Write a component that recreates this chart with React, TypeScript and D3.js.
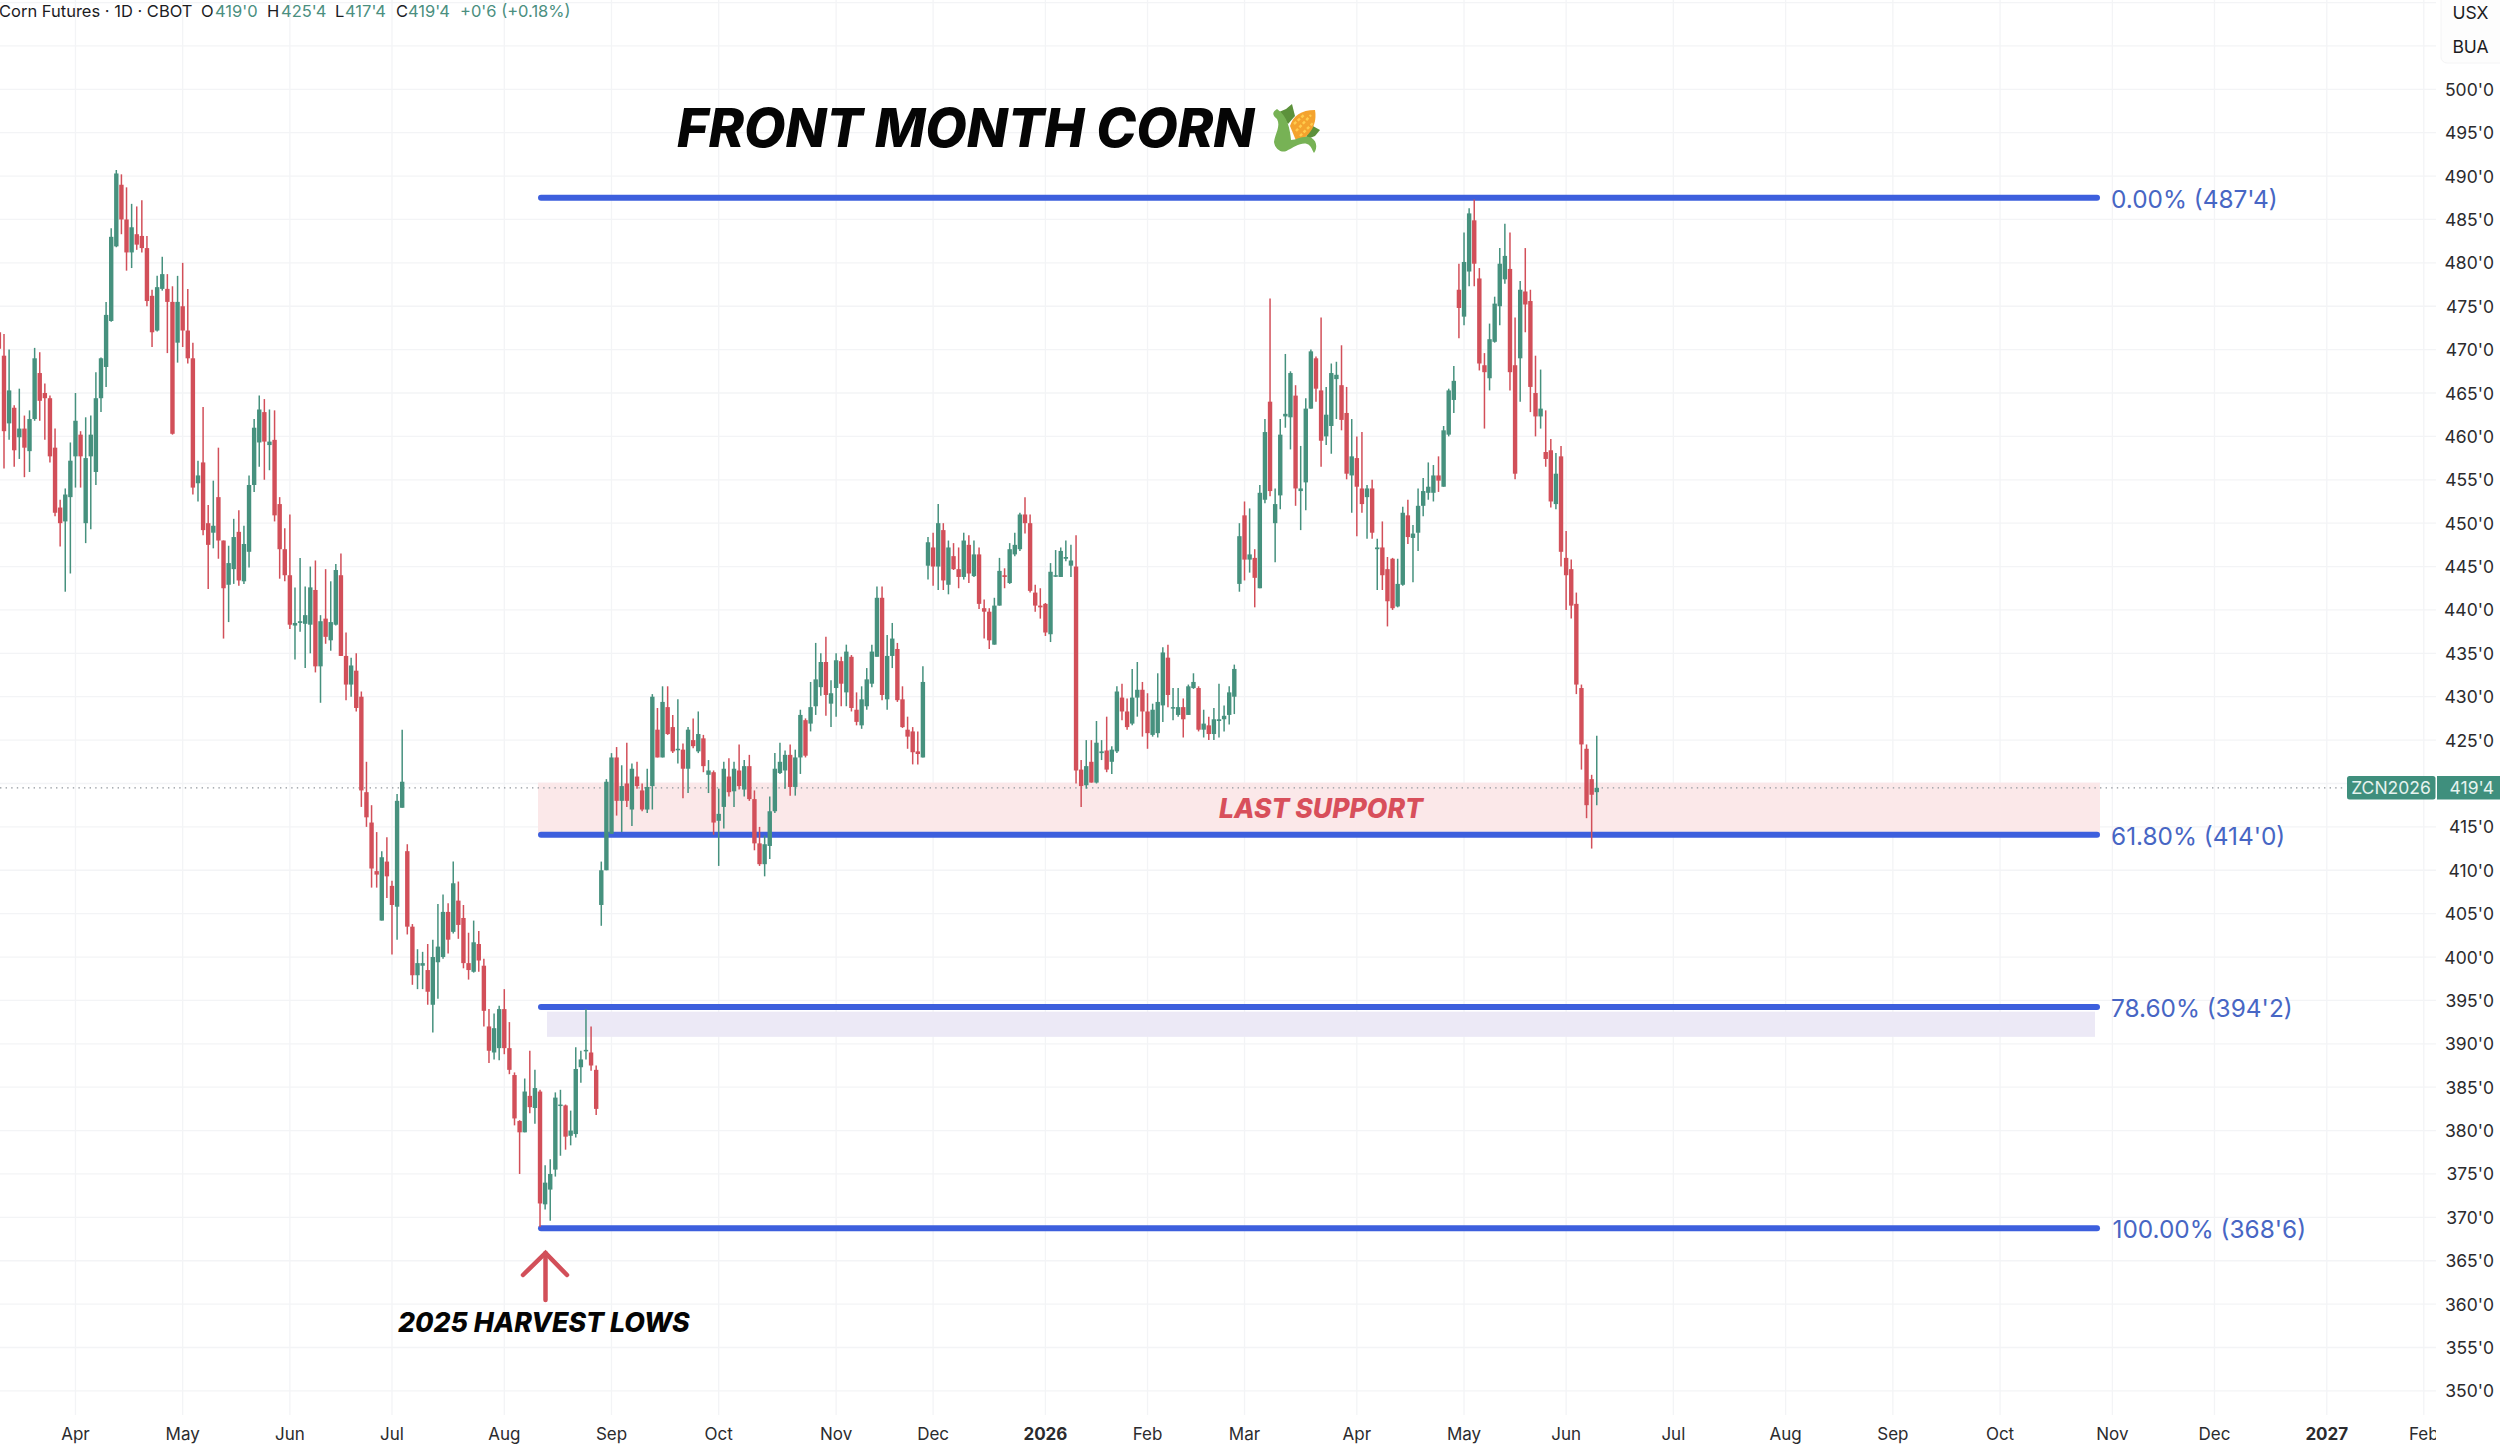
import { useEffect, useRef } from "react";
import * as d3 from "d3";

type Bar = [number, number, number, number]; // open, high, low, close

const barsSpring2025: Bar[] = [
  [472,472,469.1,470.1],[469.3,471.8,456.3,460.6],[461.5,470,459.6,465.3],[463.3,463.6,456.5,458.4],[459.9,465.5,457.4,460.9],
  [460.9,462.4,455.3,458.7],[458.3,463,455.9,462],[462,470.2,461.8,469],[467.3,469.7,461.8,464.1],[465,466.1,459.6,464.4],
  [464.4,464.7,457,457.7],[458.7,460.9,450.8,451.2],[451.8,452.7,447.3,450],[450.2,454,442.1,453.3],[453,459.3,444.2,457.2],
  [457.7,465,454.1,461.8],[460.2,460.6,454.1,457.7],[450,462.2,447.7,457.5],[457.7,462.4,449.3,460.2],[455.9,467.4,454.4,464.4],
  [464.4,469.1,462.8,469],[468,475.5,465.7,474],[473.3,484,473.2,483],[481.9,490.7,481.8,490.3],[489,490.2,483.3,485],
  [485,488.7,479.1,481.2],[481.2,486.8,479.4,484.1],[483.3,486.5,481.5,482.1],[483.1,487.2,481.2,481.7],[481.7,483.1,475,475.6],
  [476.2,476.9,470.3,472],[472.2,478.5,472.1,477.2],[477,480.7,476.8,478.7],[477,478.7,469.6,475.5],[475.5,477.3,460.2,460.3],
  [470.8,478.5,468.5,475.5],[475,480,470.3,472.2],
];

const barsSummer2025: Bar[] = [
  [472.2,477,468.4,469],[469,470.8,453.3,454.1],[454.6,457.2,452.5,455.5],[457,463.4,448.6,449.2],[450,452.1,442.4,447.5],
  [448.9,454.9,447.1,449.7],[453,458.7,445.9,448],[448,448,436.7,442.5],[442.9,447.4,438.6,445.4],[444.7,450.5,443,448.4],
  [449,451.5,442.8,443.4],[443.3,449.7,443,447.6],[446.7,455.5,444.9,454.4],[454.4,462,453.6,461],[459.3,464.7,456.5,463.1],
  [462.8,464.3,455,459.4],[459,463.1,456.1,459.4],[459.6,463,450.2,450.9],[452.2,453,443.6,447],[447,449.4,443.3,444],
  [444,451,437.8,438.3],[438.2,442.6,434.3,438.5],[438.5,446,437.5,438.7],[438.4,442.7,433.3,439.4],[438.3,445,435,442.6],
  [442.3,445.7,432.8,433.5],[433.5,439.4,429.3,438.7],[439,444.7,436.1,436.9],[436.5,443.3,435.3,438.6],[438.3,445.3,438.2,444.6],
  [444,446.5,434.7,434.7],[434.7,437.4,429.6,431.4],[431.4,434.5,430,433.6],[433,435,428.3,428.7],[430,430.6,417.3,419.2],
  [419,422.5,415,416.1],[415.5,417.5,408,410.2],[409.9,414.4,408,409.5],[404.2,412.2,404.2,411.5],[411,413.8,406.8,409.3],
  [408.2,408.8,400.3,406],[405.8,418.8,402,418],[417.2,426.2,417.2,420.2],[412.2,413,402.6,403.5],[403.5,403.8,396.8,397.9],
  [397.9,400.9,396.3,399.3],[399,400.6,396.3,399.3],[398.5,401.5,394.5,396],[394.5,402,391.3,400],[399.4,406.1,395.2,401.2],
  [400,407.2,399.8,405.2],[405.2,406.2,400.4,402],[402.9,411,402.7,408.5],[406.5,408.7,402.1,403.7],[404.5,406,398.7,399.3],
  [399.3,402.8,397.4,398.5],[398.3,404.2,398.2,401.7],[401.5,403,398.3,399.6],[399,399.8,392,393.8],[392,394,387.8,389.2],
  [389,393.5,388.2,391.8],[389.5,394.4,388.1,394],[394,396.3,388.8,389.5],[389.5,392.5,386.5,387],[386.4,386.7,380.6,381.4],
  [381.1,381.2,375,379.8],[379.8,386,379.8,384.5],[384,389.2,382,382.7],[382.6,387,380.8,384.9],[384.5,384.7,368.9,371.6],
  [371.5,376,370.9,374],[373.2,376.7,369.6,375],[375.5,384.4,374.7,383.8],[382.9,384.7,377.1,383],[382.9,383,377.8,379.3],
  [379.4,382.3,378.3,380],[379.6,389.6,379.2,387.1],[387.3,389.2,385.5,388.2],[389.2,394,388.2,389.3],[389,392,386.9,387.5],
  [387,387.5,381.8,382.5],
];

const barsFall2025: Bar[] = [
  [406,411,403.6,410],[410,420.5,410,420.2],[414.2,423.5,414.2,423],[423,424.2,416.3,418],[418,422.1,414.4,419.7],
  [420,424.7,417.3,418],[417,422.3,415.1,421.7],[420.8,422.5,419.4,419.7],[419.2,420,416.8,417],[417,421.7,416.6,419.6],
  [419.7,430.3,417,430],[426.2,428.7,423,423],[423,431.2,423,429.4],[428.8,431.2,425.6,425.7],[426.5,427.9,423.5,423.7],
  [423.9,429.7,422.3,424],[423.9,424.6,418.3,421.7],[421.7,426.5,418.9,426.2],[425,427.5,424.05,424.3],[423.7,428.3,423.5,425.7],
  [425.2,425.6,421.3,422],[421,422.7,418.9,421.5],[421.3,421.5,414.1,415.5],[415.7,419.4,410.5,416.5],[417.3,422.5,414.8,421.7],
  [420.8,422.9,418.5,419],[419.1,422.5,417.3,421.7],[421.5,424.5,419.3,419.7],[419.3,422.7,418.5,422],[422,423.3,418,418.2],
  [418.2,419.2,412.3,413.1],[413.1,415,410.5,410.7],[410.7,414,409.3,413],[412.8,418.5,411.3,416.8],[416.8,423.5,416.6,421.7],
  [421.2,424.7,421.1,422.5],[421.5,423.8,419.4,423.3],[423.3,424.5,418.6,419.6],[419.6,423.9,418.6,423],[423,428.5,421.1,427.9],
  [427.3,427.5,423,423.2],[426.9,431.7,426,428.8],[428.9,436.2,427.9,432],[431.1,435,430.1,434],[434,436.9,427.8,430.2],
  [429.2,431.9,426.5,430.4],[431,435,427.7,434.2],[434.1,434.6,428.9,431.5],[430.5,436,428.9,435.2],[434.6,434.8,428.3,428.7],
  [428.5,430.5,426.7,427.1],[426.7,431.2,426.3,429.7],[428.9,433.3,428.5,432],[431.5,436,431.1,435.2],[434.6,442.7,434.6,441.4],
  [441.4,442.7,429.6,430.2],[429.7,437.1,428.5,434.7],[434.7,438.5,433.3,436.7],[435.5,436.2,429.4,429.6],[429.7,431.2,426.4,426.5],
  [426.2,427.7,424,425.4],[426,426.5,422.2,423.6],[423.7,426,422.2,423.4],[423,433.5,423,431.7],
];

const barsWinter2026: Bar[] = [
  [445.1,448.4,443.5,447.8],[447.2,448.9,442.8,445],[445,452.2,442.3,450],[449.2,450,442.3,443.4],[442.9,448,441.8,447.2],
  [446.2,447.7,444.6,444.7],[444.7,447.2,442.5,443.8],[443.8,448.9,443.5,448],[447.5,448.6,443.1,444.2],[443.9,448,443.8,446.4],
  [446.4,447.2,440.1,440.7],[440.2,441.2,436.7,439.8],[439.8,440.2,435.5,436.5],[436,441.4,436,440.5],[440.5,446,440.5,444.5],
  [444,444.8,442.5,443.8],[443.1,447.7,443,447],[446.4,448.9,446.2,447.5],[447,451.2,446.8,451],[451,453,448.8,450],
  [450,451,442,442.2],[442,442.9,439.8,440.5],[440.5,442.5,439,440.3],[440.7,440.8,437,437.4],[437.2,445.4,436.3,444.4],
  [443.9,446.9,443.8,444],[443.8,447.2,443.8,446.8],[445.9,448,445.6,446.1],[445.1,447.5,443.8,445.7],[445,448.6,420,421.5],
  [421.6,422.7,417.3,419.7],[419.8,425,419.4,422],[422.5,425,420.1,420.1],[420.1,427.2,420,424.7],[423.5,425,422.7,423.7],
  [423.8,427.7,421.3,421.6],[422.5,424.3,421.1,423.9],[423.7,431.2,423.5,430.6],[429.9,431.5,427.3,428.3],[428.3,429.8,426.2,426.5],
  [426.9,433.2,426.7,429.9],[429.9,434,427.7,430.8],[430.8,431.7,425.4,428.3],[428.3,430.4,424,425.8],[425.6,429.2,425.4,428.5],
  [425.8,432.7,425.3,429.4],[429,435.7,427.1,435.1],[434.5,436,428.8,430.2],[428.7,431,427.3,428.8],[427.9,431,427.7,428.8],
  [428.8,429.8,425.3,427.4],[427.9,431.4,427.9,431.2],[431,432.7,430.9,431.7],[431,431.2,426,426.2],[426.2,428.5,425.3,426.9],
  [426.7,427.7,425,425.7],[425.7,428.7,425,427.4],[427.2,431.5,425.3,427.4],[427.4,429,426,427.8],[427.9,431.2,426.8,430.5],
  [430,433.7,428,433.2],
];

const barsSpring2026: Bar[] = [
  [443,450,442.1,448.5],[450.9,452.5,443.4,445.8],[445.8,451.7,444.3,446.4],[446,447,440.3,443.7],[442.5,454.4,442.5,453.5],
  [452.7,462,452.3,460.5],[464,475.9,453.1,453.7],[450,454,445.5,452.2],[453.2,462,451.6,460.2],[462.3,469.5,461,462.6],
  [462.2,467.5,458.5,467.3],[464.7,465.9,452,454],[453.7,458.9,449.2,454],[454.7,464.4,451.5,463.2],[463.2,470,463.2,469.8],
  [469,469.2,464,465.5],[465.3,473.7,456.5,459.5],[460,465.7,459,462.5],[461.2,468.4,458,467.3],[466.6,468.6,462,467.1],
  [465.9,470.5,460.7,461.9],[462.7,465.7,455.05,455.7],[455.5,462,451.2,457.7],[457.5,460,448.5,454.2],[454,460.5,451.2,452.2],
  [453,454.4,448.2,454],[454,455,448.2,448.9],[447,448.2,442.3,447.2],[447.2,450.2,442.3,444],[444.7,446.1,438.1,441],
  [445.9,446,440,440.2],[440.4,445.9,440.3,443],[442.9,451.9,442.8,451.2],[450.9,452.7,447.6,448.4],[448.3,449.8,443.2,448.8],
  [448.9,454,446.8,452],[452,455.2,450.8,453.7],[453.5,457,452.7,454.2],[453.5,456.7,452.5,455.5],[455.5,457.7,453.6,454.9],
  [454.2,461.2,454.2,460.7],[460.2,465.5,460,465.3],[464.2,468.1,462.7,466.4],[476.9,479.9,471.3,474.8],[473.8,483.5,472.8,480.1],
  [479,486.3,477.3,485.7],[484.9,487.3,477.3,479.9],[478.2,479.4,467.6,468.4],[468.2,469.6,460.9,467.4],[466.7,473,465.3,471.2],
  [470.9,476.1,470.8,475.3],[475,481.7,472.8,479.9],[478.1,484.5,477.6,480.8],[479.3,483.5,465.3,467.4],[468.2,473.7,455.05,455.7],
  [469,477.9,464,476.9],[476.7,481.7,472,475.2],[475.6,476.9,462.8,465.7],[465,469.3,460,462.3],[462.3,467.7,460.9,463.2],
  [458.2,463,456.5,457.4],[458.4,459.7,451.8,452.5],[452.2,458.1,451.6,455.7],[457.7,458.9,445,446.7],[446,449.1,440,444],
  [444.7,445.8,439,440.5],[440.7,442,430.3,431.4],[431,431.4,421.6,424.5],[424,424.5,416,417.5],[420.5,421,412.5,418.7],
  [419,425.5,417.5,419.5],
];

const allBars: Bar[] = [...barsSpring2025, ...barsSummer2025, ...barsFall2025, ...barsWinter2026, ...barsSpring2026];
const FIRST_BAR = -1;

const monthLabels = ["Apr", "May", "Jun", "Jul", "Aug", "Sep", "Oct", "Nov", "Dec", "2026", "Feb", "Mar", "Apr", "May", "Jun", "Jul", "Aug", "Sep", "Oct", "Nov", "Dec", "2027", "Feb"];
const monthBars = [14, 35, 56, 76, 98, 119, 140, 163, 182, 204, 224, 243, 265, 286, 306, 327, 349, 370, 391, 413, 433, 455, 474];

const fibPrices = [487.5, 414.1, 394.25, 368.75];
const fibLabels = ["0.00% (487'4)", "61.80% (414'0)", "78.60% (394'2)", "100.00% (368'6)"];

const priceTicks = d3.range(350, 501, 5);
const gridPrices = d3.range(350, 511, 5);

const headerParts: [string, number, boolean][] = [
  ["Corn Futures · 1D · CBOT", -1, false],
  ["O", 201, false], ["419'0", 215, true],
  ["H", 267, false], ["425'4", 281, true],
  ["L", 335, false], ["417'4", 345, true],
  ["C", 396, false], ["419'4", 408, true],
  ["+0'6 (+0.18%)", 460, true],
];

const GREEN = "#46917e", RED = "#d24f59", BLUE = "#3d5fdd", LABEL_BLUE = "#4766c4";
const FONT = "Inter, 'Liberation Sans', sans-serif";

export default function App() {
  const ref = useRef<SVGSVGElement>(null);

  useEffect(() => {
    const el = ref.current;
    if (!el) return;
    const W = 2500, H = 1444, gridRight = 2436, gridBottom = 1415;
    const svg = d3.select(el).attr("viewBox", `0 0 ${W} ${H}`).attr("width", W).attr("height", H).attr("font-family", FONT);
    svg.selectAll("*").remove();

    const x = d3.scaleLinear().domain([0, 474]).range([4, 4 + 474 * 5.105]);
    const y = d3.scaleLinear().domain([350, 500]).range([1390.9, 89.3]);

    svg.append("rect").attr("width", W).attr("height", H).attr("fill", "#fff");

    svg.append("clipPath").attr("id", "plot").append("rect").attr("width", gridRight).attr("height", H);

    // grid
    svg.append("g").selectAll("line").data(gridPrices).join("line")
      .attr("x1", 0).attr("x2", gridRight).attr("y1", (d) => y(d)).attr("y2", (d) => y(d))
      .attr("stroke", "#f3f4f6").attr("stroke-width", 1.3);
    svg.append("g").selectAll("line").data(monthBars).join("line")
      .attr("x1", (d) => x(d)).attr("x2", (d) => x(d)).attr("y1", 0).attr("y2", gridBottom)
      .attr("stroke", "#f3f4f6").attr("stroke-width", 1.3);

    // zones behind the candles
    const zoneLeft = 538, zoneRight = 2100;
    svg.append("rect").attr("x", zoneLeft).attr("width", zoneRight - zoneLeft)
      .attr("y", y(420.1)).attr("height", y(414.1) - y(420.1)).attr("fill", "#fbe8e9");
    svg.append("rect").attr("x", 547).attr("width", 2095 - 547)
      .attr("y", y(393.7)).attr("height", y(390.8) - y(393.7)).attr("fill", "#ece9f6");

    // last price line
    svg.append("line").attr("x1", 0).attr("x2", 2343).attr("y1", y(419.5)).attr("y2", y(419.5))
      .attr("stroke", "#8f959c").attr("stroke-width", 1.3).attr("stroke-dasharray", "1.4 4.2");

    // fib lines
    svg.append("g").selectAll("line").data(fibPrices).join("line")
      .attr("x1", zoneLeft + 3).attr("x2", zoneRight - 3).attr("y1", (d) => y(d)).attr("y2", (d) => y(d))
      .attr("stroke", BLUE).attr("stroke-width", 6).attr("stroke-linecap", "round");
    svg.append("g").selectAll("text").data(fibLabels).join("text")
      .attr("x", (_, i) => (i === 3 ? 2112.5 : 2111)).attr("y", (_, i) => y(fibPrices[i]) + 10)
      .attr("fill", LABEL_BLUE).attr("font-size", 24.4).text((d) => d);

    // candles
    const candles = svg.append("g");
    const barX = (i: number) => x(i + FIRST_BAR);
    candles.selectAll("line").data(allBars).join("line")
      .attr("x1", (_, i) => barX(i)).attr("x2", (_, i) => barX(i))
      .attr("y1", (d) => y(d[1])).attr("y2", (d) => y(d[2]))
      .attr("stroke", (d) => (d[3] >= d[0] ? GREEN : RED)).attr("stroke-width", 1.5);
    candles.selectAll("rect").data(allBars).join("rect")
      .attr("x", (_, i) => barX(i) - 2.2).attr("width", 4.4)
      .attr("y", (d) => y(Math.max(d[0], d[3])))
      .attr("height", (d) => Math.max(1.5, Math.abs(y(d[0]) - y(d[3]))))
      .attr("fill", (d) => (d[3] >= d[0] ? GREEN : RED));

    // annotations
    svg.append("text").attr("x", 677).attr("y", 147).attr("font-size", 53.7).attr("font-weight", 800)
      .attr("font-style", "italic").attr("fill", "#050505").text("FRONT MONTH CORN");
    const corn = svg.append("g").attr("transform", "translate(1271,104)");
    corn.append("path").attr("d", "M24 12 L21 0 L15 5 L8 8 L17 20 Z").attr("fill", "#5c913b");
    corn.append("path").attr("d", "M34 36 L44 32 L49 26 L40 21 Z").attr("fill", "#5c913b");
    corn.append("path").attr("d", "M19 22 C22 12 30 6 44 6 C46 18 42 30 26 39 Z").attr("fill", "#f4a32e");
    corn.append("path").attr("d", "M25 27 L40 11 M29 32 L42 19 M23 20 L34 10").attr("stroke", "#ffcc4d").attr("stroke-width", 2.4).attr("stroke-dasharray", "3 2").attr("fill", "none");
    corn.append("path").attr("d", "M6 5 C1 8 1 11 6 15 C10 22 4 30 3 38 C4 46 12 50 17 46 C22 44 30 38 36 40 C40 41 41 46 43 49 C47 44 46 35 38 33 C30 32 26 36 20 36 C19 26 17 12 6 5 Z").attr("fill", "#77b255");

    svg.append("text").attr("x", 1219).attr("y", 817.5).attr("font-size", 26.6).attr("font-weight", 800)
      .attr("font-style", "italic").attr("fill", "#d84f5b").text("LAST SUPPORT");
    svg.append("text").attr("x", 398).attr("y", 1332).attr("font-size", 26.7).attr("font-weight", 800)
      .attr("font-style", "italic").attr("fill", "#050505").text("2025 HARVEST LOWS");
    const arrow = d3.line();
    svg.append("path").attr("d", arrow([[545.5, 1300], [545.5, 1253]]))
      .attr("stroke", RED).attr("stroke-width", 4.5).attr("fill", "none").attr("stroke-linecap", "round");
    svg.append("path").attr("d", arrow([[523, 1275], [545.5, 1253], [567, 1275]]))
      .attr("stroke", RED).attr("stroke-width", 4.5).attr("fill", "none").attr("stroke-linecap", "round");

    // header
    svg.append("g").selectAll("text").data(headerParts).join("text")
      .attr("x", (d) => d[1]).attr("y", 17).attr("font-size", 16.5)
      .attr("fill", (d) => (d[2] ? "#4b8f7f" : "#1c1c1f")).text((d) => d[0]);

    // price scale
    svg.append("rect").attr("x", 2441).attr("y", -8).attr("width", 70).attr("height", 71).attr("rx", 6)
      .attr("fill", "#fdfdfd").attr("stroke", "#f4f4f5");
    svg.append("g").selectAll("text").data(["USX", "BUA"]).join("text")
      .attr("x", 2470.5).attr("y", (_, i) => 18.5 + i * 34.5).attr("text-anchor", "middle")
      .attr("font-size", 17.5).attr("fill", "#1c1c1f").text((d) => d);
    svg.append("g").selectAll("text").data(priceTicks).join("text")
      .attr("x", 2494).attr("y", (d) => y(d) + 6.5).attr("text-anchor", "end")
      .attr("font-size", 17.5).attr("fill", "#2b2b2e").text((d) => `${d}'0`);

    // last price tags
    svg.append("rect").attr("x", 2347).attr("y", 776).attr("width", 88.5).attr("height", 23.5).attr("rx", 2.5).attr("fill", "#3f8f7d");
    svg.append("rect").attr("x", 2437).attr("y", 776).attr("width", 63).attr("height", 23.5).attr("fill", "#3f8f7d");
    svg.append("text").attr("x", 2391).attr("y", 794).attr("text-anchor", "middle").attr("font-size", 17.5).attr("fill", "#e6f3ef").text("ZCN2026");
    svg.append("text").attr("x", 2494).attr("y", 794).attr("text-anchor", "end").attr("font-size", 17.5).attr("fill", "#e6f3ef").text("419'4");

    // time axis
    svg.append("g").attr("clip-path", "url(#plot)").selectAll("text").data(monthBars).join("text")
      .attr("x", (d) => x(d)).attr("y", 1439.8).attr("text-anchor", "middle")
      .attr("font-size", 17).attr("fill", "#2b2b2e")
      .attr("font-weight", (_, i) => (monthLabels[i].length === 4 ? 700 : 400))
      .text((_, i) => monthLabels[i]);
  }, []);

  return <svg ref={ref} role="img" aria-label="Front month corn futures" style={{ position: "absolute", left: 0, top: 0, display: "block" }} />;
}
